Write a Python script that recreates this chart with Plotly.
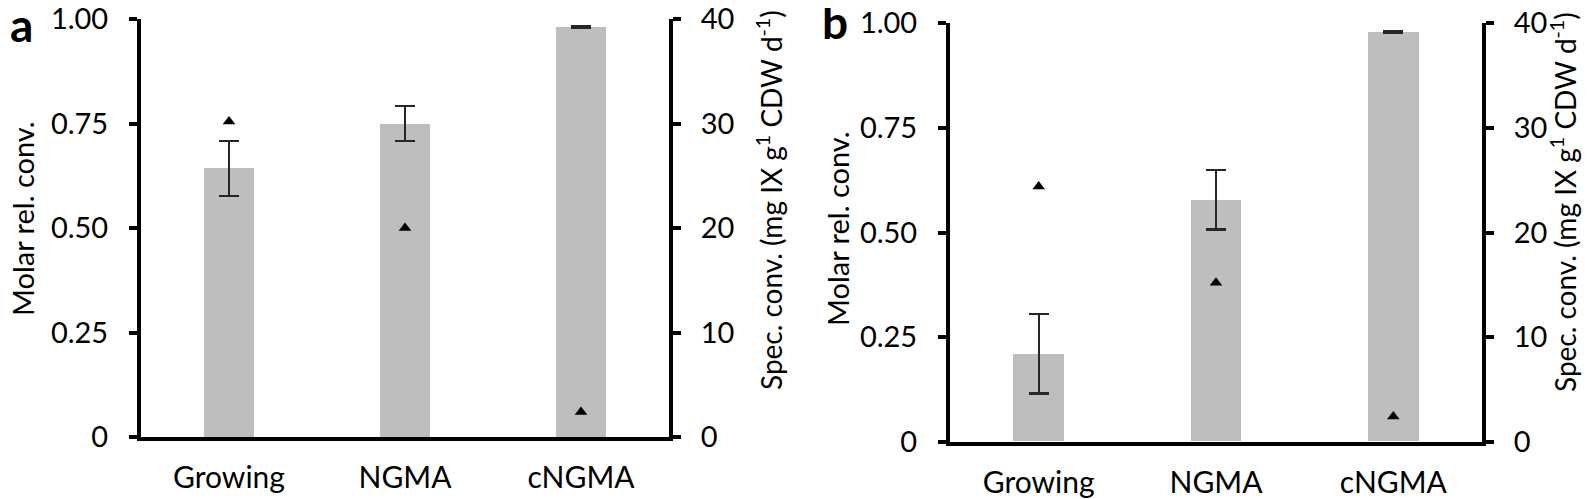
import plotly.graph_objects as go

categories = ["Growing", "NGMA", "cNGMA"]

# Panel a
molar_a = [0.643, 0.750, 0.980]
molar_err_a = [0.066, 0.042, 0.002]
spec_a = [30.2, 20.0, 2.4]

# Panel b
molar_b = [0.210, 0.578, 0.979]
molar_err_b = [0.095, 0.071, 0.002]
spec_b = [24.4, 15.2, 2.4]

left_tickvals = [0, 0.25, 0.5, 0.75, 1.0]
left_ticktext = ["0", "0.25", "0.50", "0.75", "1.00"]
right_tickvals = [0, 10, 20, 30, 40]

FONT = "Lato, 'Open Sans', sans-serif"
BAR_COLOR = "#bebebe"
ERR_COLOR = "#262626"

fig = go.Figure()

def add_panel(molar, err, spec, xa, ya, ya2):
    fig.add_trace(go.Bar(
        x=categories, y=molar, xaxis=xa, yaxis=ya,
        marker=dict(color=BAR_COLOR, line=dict(width=0)),
        width=0.285,
        error_y=dict(type="data", array=err, visible=True,
                     color=ERR_COLOR, thickness=2.2, width=10),
        showlegend=False,
    ))
    fig.add_trace(go.Scatter(
        x=categories, y=spec, xaxis=xa, yaxis=ya2, mode="markers",
        marker=dict(symbol="triangle-up", size=11, color="black"),
        showlegend=False,
    ))

add_panel(molar_a, molar_err_a, spec_a, "x", "y", "y2")
add_panel(molar_b, molar_err_b, spec_b, "x2", "y3", "y4")

W, H = 1594, 499
OFF = 8  # page body margin offset

def xdom(l, r):
    return [(l - OFF) / W, (r - OFF) / W]

def ydom(bottom, top):
    return [(H - (bottom - OFF)) / H, (H - (top - OFF)) / H]

axis_common = dict(showline=True, linecolor="black", linewidth=4,
                   showgrid=False, zeroline=False, automargin=False,
                   ticklabeloverflow="allow",
                   tickfont=dict(family=FONT, size=29, color="black"))

xcommon = dict(axis_common, type="category", range=[-0.5, 2.5],
               ticks="", ticklabelstandoff=11,
               tickfont=dict(family=FONT, size=30, color="black"))
ycommon_left = dict(axis_common, range=[0, 1], tickvals=left_tickvals,
                    ticktext=left_ticktext, ticks="outside", ticklen=8,
                    tickwidth=4, tickcolor="black", side="left",
                    ticklabelstandoff=15)
ycommon_right = dict(axis_common, range=[0, 40], tickvals=right_tickvals,
                     ticks="outside", ticklen=8, tickwidth=4,
                     tickcolor="black", side="right", ticklabelstandoff=14)

fig.update_layout(
    width=W, height=H,
    margin=dict(l=0, r=0, t=0, b=0, autoexpand=False),
    paper_bgcolor="white", plot_bgcolor="white",
    bargap=0,
    xaxis=dict(xcommon, domain=xdom(141, 669), anchor="y"),
    yaxis=dict(ycommon_left, domain=ydom(437, 19), anchor="x"),
    yaxis2=dict(ycommon_right, overlaying="y", anchor="x"),
    xaxis2=dict(xcommon, domain=xdom(950, 1482), anchor="y3"),
    yaxis3=dict(ycommon_left, domain=ydom(441.7, 23.3), anchor="x2"),
    yaxis4=dict(ycommon_right, overlaying="y3", anchor="x2"),
)

title_font = dict(family=FONT, size=28, color="black")
left_title = "Molar rel. conv."
right_title = "Spec. conv. (mg IX g<sup>1</sup> CDW d<sup>-1</sup>)"

def px_annot(text, x, y, angle=0, font=title_font):
    fig.add_annotation(text=text, x=(x - OFF) / W, y=(H - (y - OFF)) / H,
                       xref="paper", yref="paper", showarrow=False,
                       textangle=angle, font=font,
                       xanchor="center", yanchor="middle")

px_annot(left_title, 22, 219, -90, dict(family=FONT, size=29, color="black"))
px_annot(left_title, 837, 229, -90, dict(family=FONT, size=29, color="black"))
px_annot(right_title, 769, 200, -90)
px_annot(right_title, 1563, 202, -90)

letter_font = dict(family=FONT, size=46, color="black", weight="bold")
px_annot("a", 21, 24, 0, letter_font)
px_annot("b", 835, 21, 0, letter_font)

fig.write_html("out.html")
